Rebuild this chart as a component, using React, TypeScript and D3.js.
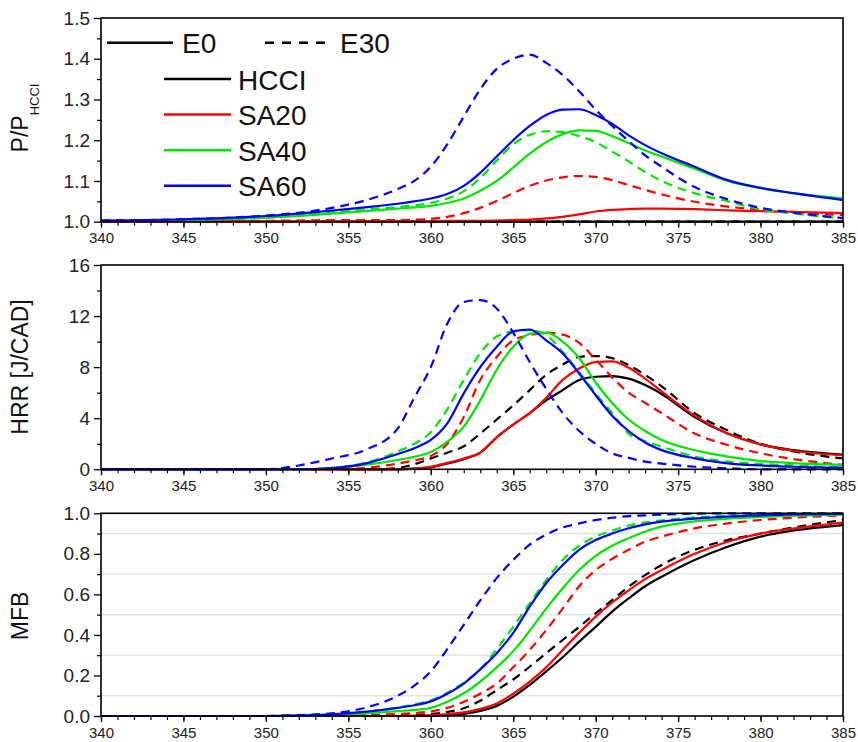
import { useEffect, useRef } from 'react';
import * as d3 from 'd3';

// crank angle grid shared by every curve [CAD]
const cad = [340, 345, 350, 352, 354, 356, 358, 359, 360, 361, 362, 363, 364, 365, 366, 367, 368, 369, 370, 371, 372, 373, 374, 376, 378, 380, 382, 385];

// P / P_HCCI
const pHcciE0 = [1, 1, 1, 1, 1, 1, 1, 1, 1, 1, 1, 1, 1, 1, 1, 1, 1, 1, 1, 1, 1, 1, 1, 1, 1, 1, 1, 1];
const pHcciE30 = [1, 1, 1, 1, 1, 1, 1, 1, 1, 1, 1, 1, 1, 1, 1, 1, 1, 1, 1, 1, 1, 1, 1, 1, 1, 1, 1, 1];
const pSa20E0 = [1.0, 1.0, 1.0, 1.0, 1.0, 1.001, 1.001, 1.001, 1.001, 1.002, 1.002, 1.002, 1.003, 1.004, 1.005, 1.008, 1.012, 1.018, 1.025, 1.029, 1.031, 1.032, 1.032, 1.031, 1.028, 1.026, 1.024, 1.021];
const pSa20E30 = [1.0, 1.001, 1.002, 1.003, 1.004, 1.004, 1.004, 1.005, 1.007, 1.012, 1.021, 1.034, 1.051, 1.07, 1.088, 1.101, 1.109, 1.112, 1.11, 1.102, 1.09, 1.078, 1.067, 1.049, 1.037, 1.029, 1.023, 1.016];
const pSa40E0 = [1.002, 1.004, 1.01, 1.014, 1.02, 1.026, 1.032, 1.035, 1.039, 1.046, 1.057, 1.076, 1.1, 1.133, 1.167, 1.195, 1.215, 1.224, 1.223, 1.21, 1.193, 1.175, 1.16, 1.13, 1.1, 1.082, 1.07, 1.057];
const pSa40E30 = [1.002, 1.004, 1.01, 1.015, 1.022, 1.03, 1.036, 1.04, 1.046, 1.057, 1.075, 1.107, 1.15, 1.19, 1.213, 1.222, 1.22, 1.21, 1.195, 1.172, 1.148, 1.122, 1.1, 1.07, 1.05, 1.03, 1.02, 1.008];
const pSa60E0 = [1.003, 1.006, 1.014, 1.02, 1.027, 1.035, 1.044, 1.05, 1.057, 1.068, 1.088, 1.12, 1.16, 1.2, 1.235, 1.262, 1.275, 1.276, 1.262, 1.24, 1.212, 1.188, 1.168, 1.135, 1.102, 1.083, 1.07, 1.053];
const pSa60E30 = [1.003, 1.006, 1.015, 1.022, 1.034, 1.052, 1.08, 1.1, 1.135, 1.19, 1.258, 1.325, 1.375, 1.4, 1.41, 1.39, 1.36, 1.32, 1.275, 1.235, 1.198, 1.163, 1.135, 1.085, 1.055, 1.034, 1.022, 1.009];

// heat release rate [J/CAD]
const hHcciE0 = [0, 0, 0, 0, 0, 0, 0, 0.05, 0.15, 0.45, 0.8, 1.3, 2.5, 3.5, 4.4, 5.4, 6.2, 7.0, 7.25, 7.3, 7.1, 6.6, 5.9, 4.1, 2.8, 1.95, 1.5, 1.15];
const hHcciE30 = [0, 0, 0, 0, 0, 0, 0.1, 0.4, 0.85, 1.3, 1.8, 2.8, 3.9, 5.0, 6.2, 7.4, 8.2, 8.8, 8.87, 8.7, 8.15, 7.4, 6.5, 4.4, 3.05, 2.0, 1.4, 0.85];
const hSa20E0 = [0, 0, 0, 0, 0, 0, 0, 0.05, 0.2, 0.5, 0.85, 1.3, 2.5, 3.5, 4.4, 5.6, 7.0, 7.9, 8.4, 8.45, 7.95, 7.1, 6.1, 4.2, 2.8, 1.95, 1.45, 1.1];
const hSa20E30 = [0, 0, 0, 0, 0, 0.1, 0.45, 0.7, 1.05, 2.0, 4.1, 7.0, 8.8, 10.1, 10.5, 10.7, 10.55, 9.9, 8.6, 7.2, 6.0, 5.2, 4.4, 2.8, 1.9, 1.25, 0.8, 0.34];
const hSa40E0 = [0, 0, 0, 0, 0.1, 0.34, 0.73, 0.98, 1.35, 2.16, 3.34, 5.4, 7.8, 9.6, 10.6, 10.7, 10.0, 8.7, 6.8, 5.2, 3.9, 3.0, 2.3, 1.5, 0.99, 0.65, 0.48, 0.34];
const hSa40E30 = [0, 0, 0, 0, 0.1, 0.5, 1.4, 2.0, 2.9, 4.7, 7.0, 9.1, 10.4, 10.8, 10.9, 10.5, 9.2, 7.6, 5.95, 4.4, 2.8, 2.2, 1.77, 1.0, 0.6, 0.42, 0.3, 0.13];
const hSa60E0 = [0, 0, 0, 0, 0.1, 0.45, 1.2, 1.65, 2.3, 3.6, 5.95, 8.0, 9.6, 10.8, 10.95, 10.1, 9.08, 7.5, 5.8, 4.2, 3.0, 2.1, 1.5, 0.86, 0.47, 0.3, 0.2, 0.13];
const hSa60E30 = [0, 0, 0, 0.3, 0.85, 1.5, 3.2, 5.6, 8.0, 11.4, 13.1, 13.25, 12.6, 10.7, 8.4, 6.3, 4.4, 3.0, 2.0, 1.25, 0.9, 0.6, 0.45, 0.2, 0.08, 0, 0, 0];

// mass fraction burned
const mHcciE0 = [0, 0, 0, 0, 0, 0, 0, 0, 0, 0.005, 0.01, 0.025, 0.05, 0.095, 0.153, 0.22, 0.29, 0.367, 0.44, 0.515, 0.58, 0.64, 0.687, 0.77, 0.835, 0.885, 0.915, 0.942];
const mHcciE30 = [0, 0, 0, 0, 0, 0.001, 0.004, 0.006, 0.01, 0.02, 0.038, 0.075, 0.128, 0.18, 0.243, 0.31, 0.375, 0.44, 0.507, 0.572, 0.638, 0.695, 0.745, 0.82, 0.868, 0.9, 0.93, 0.967];
const mSa20E0 = [0, 0, 0, 0, 0, 0, 0, 0.002, 0.005, 0.01, 0.018, 0.035, 0.062, 0.11, 0.17, 0.24, 0.326, 0.41, 0.49, 0.56, 0.62, 0.675, 0.72, 0.8, 0.86, 0.9, 0.925, 0.954];
const mSa20E30 = [0, 0, 0, 0, 0.002, 0.005, 0.01, 0.015, 0.023, 0.04, 0.07, 0.11, 0.16, 0.24, 0.326, 0.424, 0.53, 0.64, 0.72, 0.775, 0.82, 0.86, 0.885, 0.926, 0.95, 0.967, 0.978, 0.99];
const mSa40E0 = [0, 0, 0, 0.002, 0.005, 0.012, 0.024, 0.03, 0.04, 0.07, 0.112, 0.17, 0.24, 0.32, 0.42, 0.53, 0.63, 0.72, 0.79, 0.84, 0.877, 0.91, 0.934, 0.96, 0.973, 0.982, 0.988, 0.993];
const mSa40E30 = [0, 0, 0, 0.003, 0.008, 0.02, 0.042, 0.057, 0.077, 0.115, 0.165, 0.23, 0.33, 0.44, 0.556, 0.67, 0.77, 0.84, 0.885, 0.915, 0.94, 0.955, 0.965, 0.98, 0.988, 0.993, 0.996, 0.998];
const mSa60E0 = [0, 0, 0, 0.003, 0.008, 0.02, 0.04, 0.053, 0.072, 0.11, 0.16, 0.23, 0.31, 0.41, 0.54, 0.655, 0.745, 0.82, 0.868, 0.9, 0.926, 0.945, 0.959, 0.974, 0.984, 0.99, 0.994, 0.997];
const mSa60E30 = [0, 0, 0, 0.005, 0.013, 0.04, 0.1, 0.15, 0.22, 0.33, 0.45, 0.57, 0.68, 0.77, 0.845, 0.895, 0.93, 0.95, 0.967, 0.978, 0.986, 0.99, 0.994, 0.998, 1.0, 1.0, 1.0, 1.0];

const cases = ['HCCI', 'SA20', 'SA40', 'SA60'];
const fuels = ['E0', 'E30'];
const colors = ['#000000', '#ff0000', '#00e600', '#0000ff'];

const xTicks = [340, 345, 350, 355, 360, 365, 370, 375, 380, 385];
const pTicks = [1.0, 1.1, 1.2, 1.3, 1.4, 1.5];
const pMinor = [1.05, 1.15, 1.25, 1.35, 1.45];
const hTicks = [0, 4, 8, 12, 16];
const hMinor = [2, 6, 10, 14];
const mTicks = [0, 0.2, 0.4, 0.6, 0.8, 1.0];
const mMinor = [0.1, 0.3, 0.5, 0.7, 0.9];

export default function App() {
  const svgRef = useRef<SVGSVGElement>(null);

  useEffect(() => {
    const svg = d3.select(svgRef.current);
    svg.selectAll('*').remove();

    const font = '"Liberation Sans", Arial, Helvetica, sans-serif';
    const x = d3.scaleLinear().domain([340, 385]).range([101, 843]);

    const panels = [
      {
        top: 18, bottom: 221.7, domain: [1.0, 1.5], ticks: pTicks, minor: pMinor, fmt: d3.format('.1f'),
        grid: [] as number[],
        series: [[pHcciE0, pHcciE30], [pSa20E0, pSa20E30], [pSa40E0, pSa40E30], [pSa60E0, pSa60E30]],
      },
      {
        top: 265, bottom: 469.3, domain: [0, 16], ticks: hTicks, minor: hMinor, fmt: d3.format('d'),
        grid: [] as number[],
        series: [[hHcciE0, hHcciE30], [hSa20E0, hSa20E30], [hSa40E0, hSa40E30], [hSa60E0, hSa60E30]],
      },
      {
        top: 513.3, bottom: 716, domain: [0, 1.0], ticks: mTicks, minor: mMinor, fmt: d3.format('.1f'),
        grid: mMinor,
        series: [[mHcciE0, mHcciE30], [mSa20E0, mSa20E30], [mSa40E0, mSa40E30], [mSa60E0, mSa60E30]],
      },
    ];

    panels.forEach((p) => {
      const y = d3.scaleLinear().domain(p.domain).range([p.bottom, p.top]);
      const g = svg.append('g');

      // light horizontal grid
      g.selectAll('.grid')
        .data(p.grid)
        .join('line')
        .attr('x1', 101)
        .attr('x2', 843)
        .attr('y1', (d) => y(d))
        .attr('y2', (d) => y(d))
        .attr('stroke', '#e3e3e3')
        .attr('stroke-width', 1.5);

      const line = d3.line<number>()
        .x((_, i) => x(cad[i]))
        .y((d) => y(d))
        .curve(d3.curveMonotoneX);

      p.series.forEach((pair, ci) => {
        pair.forEach((vals, fi) => {
          g.append('path')
            .attr('d', line(vals))
            .attr('fill', 'none')
            .attr('stroke', colors[ci])
            .attr('stroke-width', 2.2)
            .attr('stroke-dasharray', fi === 1 ? '9,6' : null)
            .attr('stroke-linejoin', 'round');
        });
      });

      // frame
      g.append('rect')
        .attr('x', 101)
        .attr('y', p.top)
        .attr('width', 843 - 101)
        .attr('height', p.bottom - p.top)
        .attr('fill', 'none')
        .attr('stroke', '#000')
        .attr('stroke-width', 1.6);

      // x axis
      const xa = g.append('g')
        .attr('transform', `translate(0,${p.bottom})`)
        .call(d3.axisBottom(x).tickValues(xTicks).tickSize(6).tickSizeOuter(0).tickPadding(5).tickFormat(d3.format('d')));
      xa.select('.domain').remove();
      xa.selectAll('line').attr('stroke-width', 1.3);
      xa.selectAll('text').attr('font-size', 15).attr('font-family', font).attr('fill', '#222');

      const xm = g.append('g')
        .attr('transform', `translate(0,${p.bottom})`)
        .call(d3.axisBottom(x).tickValues(d3.range(340, 386, 1)).tickSize(4).tickFormat(() => ''));
      xm.select('.domain').remove();
      xm.selectAll('line').attr('stroke-width', 1.2);

      // y axis
      const ya = g.append('g')
        .attr('transform', 'translate(101,0)')
        .call(d3.axisLeft(y).tickValues(p.ticks).tickSize(7).tickSizeOuter(0).tickPadding(4).tickFormat(p.fmt as any));
      ya.select('.domain').remove();
      ya.selectAll('line').attr('stroke-width', 1.3);
      ya.selectAll('text').attr('font-size', 19).attr('font-family', font).attr('fill', '#222');

      const ym = g.append('g')
        .attr('transform', 'translate(101,0)')
        .call(d3.axisLeft(y).tickValues(p.minor).tickSize(4).tickFormat(() => ''));
      ym.select('.domain').remove();
      ym.selectAll('line').attr('stroke-width', 1.2);
    });

    // axis titles
    const t1 = svg.append('text')
      .attr('transform', 'translate(28,118) rotate(-90)')
      .attr('text-anchor', 'middle')
      .attr('font-family', font)
      .attr('font-size', 23)
      .attr('fill', '#111');
    t1.append('tspan').text('P/P');
    t1.append('tspan').attr('font-size', 13).attr('dy', 11).text('HCCI');

    svg.append('text')
      .attr('transform', 'translate(28,367) rotate(-90)')
      .attr('text-anchor', 'middle')
      .attr('font-family', font)
      .attr('font-size', 23)
      .attr('fill', '#111')
      .text('HRR [J/CAD]');

    svg.append('text')
      .attr('transform', 'translate(28,616) rotate(-90)')
      .attr('text-anchor', 'middle')
      .attr('font-family', font)
      .attr('font-size', 23)
      .attr('fill', '#111')
      .text('MFB');

    // legend: line style = fuel, colour = case
    const lg = svg.append('g').attr('font-family', font).attr('font-size', 28).attr('fill', '#111');
    const fuelLegend = [
      { x1: 107, x2: 173, tx: 182 },
      { x1: 265, x2: 333, tx: 340 },
    ];
    fuels.forEach((f, i) => {
      const l = fuelLegend[i];
      lg.append('line')
        .attr('x1', l.x1).attr('x2', l.x2).attr('y1', 42.7).attr('y2', 42.7)
        .attr('stroke', '#000').attr('stroke-width', 2.5)
        .attr('stroke-dasharray', i === 1 ? '9,8' : null);
      lg.append('text').attr('x', l.tx).attr('y', 53).text(f);
    });
    cases.forEach((c, i) => {
      const yy = 79 + i * 35.6;
      lg.append('line')
        .attr('x1', 164).attr('x2', 231).attr('y1', yy).attr('y2', yy)
        .attr('stroke', colors[i]).attr('stroke-width', 2.5);
      lg.append('text').attr('x', 238).attr('y', yy + 10.5).text(c);
    });
  }, []);

  return (
    <svg
      ref={svgRef}
      width={858}
      height={742}
      style={{ position: 'absolute', left: 0, top: 0, background: '#fff' }}
    />
  );
}
